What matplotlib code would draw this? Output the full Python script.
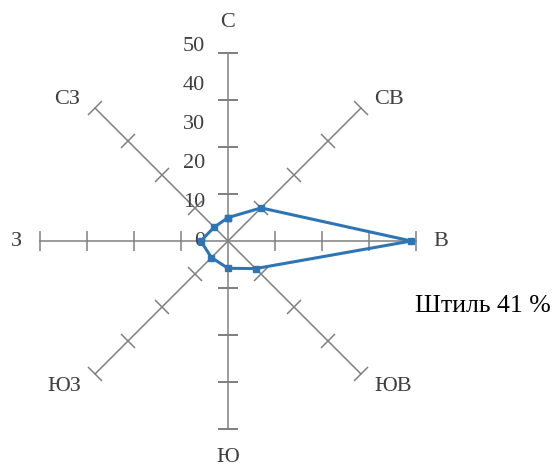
import numpy as np
import matplotlib

matplotlib.use("Agg")
import matplotlib.pyplot as plt  # noqa: E402
from matplotlib.markers import MarkerStyle  # noqa: E402
from matplotlib.transforms import Affine2D  # noqa: E402

# wind rose data: repeatability of wind directions, %
directions = ["С", "СВ", "В", "ЮВ", "Ю", "ЮЗ", "З", "СЗ"]
freq = [6, 12, 47, 10, 7, 6, 7, 5]
radial_labels = [0, 10, 20, 30, 40, 50]
calm = 41

plt.rcParams["font.family"] = ["Liberation Serif", "DejaVu Serif"]

W, H = 556, 468
fig = plt.figure(figsize=(W / 100, H / 100), dpi=100)
cx, cy, rad = 228, 241, 195  # centre and radius (px) of the 0..50 scale
ax = fig.add_axes([(cx - rad) / W, (H - cy - rad) / H, 2 * rad / W, 2 * rad / H],
                  projection="polar")
ax.set_theta_zero_location("N")
ax.set_theta_direction(-1)
ax.set_ylim(0, 50)
ax.axis("off")

theta = np.deg2rad(np.arange(len(directions)) * 45)
r_axis = 48.2  # spokes are a bit shorter than the 50 mark
grey = "#808080"

# spokes with cross ticks, 4 divisions each
for t, deg in zip(theta, np.arange(len(directions)) * 45):
    ax.plot([t, t], [0, r_axis], color=grey, lw=1.1, zorder=1)
    m = MarkerStyle("_", transform=Affine2D().rotate_deg(-deg))
    ax.plot([t] * 4, [r_axis * k / 4 for k in range(1, 5)], ls="none",
            marker=m, ms=15, mew=1.1, color=grey, zorder=1)

# radial scale labels along the north spoke
for v in radial_labels:
    ax.annotate(str(v), xy=(0, v), xytext=(-23, 0), textcoords="offset pixels",
                ha="right", va="center", fontsize=16, color="#404040")

# direction labels
offsets = [(0, 31), (28, 9), (25, 0), (32, -13), (0, -29), (-31, -13), (-24, 0), (-28, 9)]
for t, name, (dx, dy) in zip(theta, directions, offsets):
    ax.annotate(name, xy=(t, r_axis), xytext=(dx, dy), textcoords="offset pixels",
                ha="center", va="center", fontsize=16, color="#404040",
                annotation_clip=False)

# closed frequency polygon
tt = np.append(theta, theta[0])
ff = freq + freq[:1]
ax.plot(tt, ff, color="#2E75B6", lw=2.2, marker="s", ms=5, zorder=3, clip_on=False)

fig.text(483 / W, 1 - 306 / H, f"Штиль {calm} %", ha="center", va="center",
         fontsize=18.5, color="black")

fig.savefig("out.png", dpi=100)
